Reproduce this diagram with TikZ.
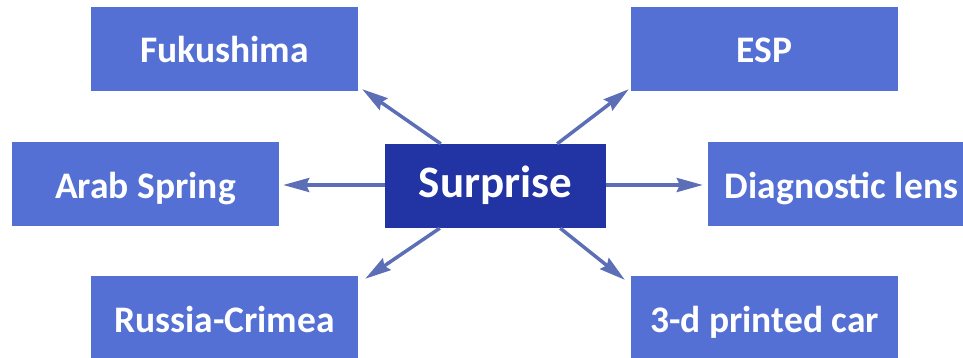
\documentclass[tikz,border=0pt]{standalone}
\usepackage{fontspec}
\setmainfont{Carlito}
\usetikzlibrary{arrows.meta}
\definecolor{boxblue}{RGB}{84,112,213}
\definecolor{darkblue}{RGB}{34,51,163}
\definecolor{arrowblue}{RGB}{92,110,182}
\tikzset{
  x=1pt,y=-1pt,
  item/.style={fill=boxblue, text=white, font=\bfseries\fontsize{37.5}{42}\selectfont,
    minimum width=267pt, minimum height=84pt, inner sep=0pt,
    text height=28pt, text depth=0pt},
  hub/.style={fill=darkblue, text=white, font=\bfseries\fontsize{45}{50}\selectfont,
    minimum width=221pt, minimum height=84pt, inner sep=0pt,
    text height=22pt, text depth=0pt},
  arr/.style={draw=arrowblue, line width=3.5pt, -{Stealth[length=26pt,width=14pt,inset=3pt]}}
}
\begin{document}
\begin{tikzpicture}
\useasboundingbox (0,0) rectangle (963,358);
\clip (0,0) rectangle (963,358);
\node[item] (fuk) at (224.5,49) {Fukushima};
\node[item] (esp) at (764.5,49) {ESP};
\node[item] (arab) at (145.5,184) {Arab Spring};
\node[hub] (surp) at (495.5,186) {Surprise};
\node[item] (diag) at (841.5,184) {Diagnostic lens};
\node[item] (rus) at (224.5,318) {Russia-Crimea};
\node[item] (car) at (764.5,318) {3-d printed car};
\draw[arr] ([xshift=56pt]surp.north west) -- ([shift={(4pt,2pt)}]fuk.south east);
\draw[arr] ([xshift=-49pt]surp.north east) -- ([shift={(-2pt,2pt)}]esp.south west);
\draw[arr] ([yshift=1pt]surp.west) -- ([shift={(4pt,1pt)}]arab.east |- surp.west);
\draw[arr] ([yshift=1pt]surp.east) -- ([shift={(-5pt,1pt)}]diag.west |- surp.east);
\draw[arr] ([xshift=55pt]surp.south west) -- ([shift={(7pt,-3pt)}]rus.north east);
\draw[arr] ([xshift=-46pt]surp.south east) -- ([shift={(-6pt,-4pt)}]car.north west);
\end{tikzpicture}
\end{document}
